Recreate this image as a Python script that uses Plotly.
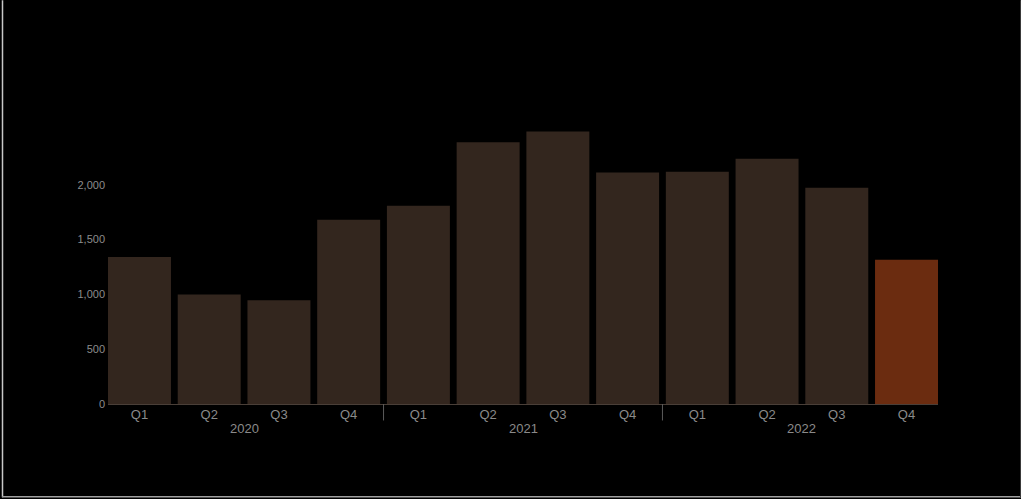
import plotly.graph_objects as go

# Quarterly totals, grouped by year
year_names = ["2020", "2021", "2022"]
quarter_names = ["Q1", "Q2", "Q3", "Q4"]
values = [1341, 998, 946, 1681, 1809, 2389, 2486, 2112, 2118, 2237, 1972, 1317]

categories = [f"{y} {q}" for y in year_names for q in quarter_names]
quarter_labels = [q for _ in year_names for q in quarter_names]

base_color = "#33261e"
highlight_color = "#6b2c10"
bar_colors = [base_color] * (len(values) - 1) + [highlight_color]

y_ticks = [0, 500, 1000, 1500, 2000]
y_tick_text = ["0", "500", "1,000", "1,500", "2,000"]

W, H = 1021, 499
ML, MR, MT, MB = 108, 83, 130, 94.5
GAP = 0.097

plot_w = W - ML - MR
plot_h = H - MT - MB


def px_x(p):
    return (p - ML) / plot_w


def px_y(p):
    return (H - MB - p) / plot_h


fig = go.Figure(
    go.Bar(
        x=categories,
        y=values,
        marker=dict(color=bar_colors, line=dict(width=0)),
    )
)

label_color = "#8a8a8a"
n_q = len(quarter_names)

# Year labels centred under each group of quarters
annotations = [
    dict(
        x=i * n_q + (n_q - 1) / 2,
        xref="x",
        y=px_y(429.5),
        yref="paper",
        text=y,
        showarrow=False,
        yanchor="middle",
        font=dict(size=13, color=label_color),
    )
    for i, y in enumerate(year_names)
]

# Divider ticks between year groups
shapes = [
    dict(type="line", xref="x", yref="paper",
         x0=i * n_q - 0.5, x1=i * n_q - 0.5, y0=0, y1=px_y(421),
         line=dict(color="#5a5a5a", width=1))
    for i in range(1, len(year_names))
]

frame_color = "#c8c8c8"
shapes += [
    dict(type="line", xref="paper", yref="paper",
         x0=px_x(2.5), x1=px_x(2.5), y0=px_y(0), y1=px_y(498),
         line=dict(color=frame_color, width=1.5)),
    dict(type="line", xref="paper", yref="paper",
         x0=px_x(2), x1=px_x(1021), y0=px_y(497.5), y1=px_y(497.5),
         line=dict(color="#a0a0a0", width=1.5)),
    dict(type="line", xref="paper", yref="paper",
         x0=px_x(1020.5), x1=px_x(1020.5), y0=px_y(0), y1=px_y(498),
         line=dict(color="#3a3a3a", width=1)),
]

fig.update_layout(
    template="none",
    width=W,
    height=H,
    margin=dict(l=ML, r=MR, t=MT, b=MB),
    paper_bgcolor="#000000",
    plot_bgcolor="#000000",
    bargap=GAP,
    showlegend=False,
    font=dict(family="Liberation Sans, Arial, sans-serif", color=label_color),
    xaxis=dict(
        type="category",
        range=[-0.5 + GAP / 2, len(values) - 0.5 - GAP / 2],
        tickvals=categories,
        ticktext=quarter_labels,
        showgrid=False,
        showline=True,
        linecolor="#4a3f38",
        linewidth=1,
        ticks="",
        ticklabelstandoff=-2,
        tickfont=dict(size=13, color=label_color),
        zeroline=False,
    ),
    yaxis=dict(
        range=[0, 2500],
        tickvals=y_ticks,
        ticktext=y_tick_text,
        showgrid=False,
        zeroline=False,
        showline=False,
        ticks="",
        ticklabelstandoff=2,
        tickfont=dict(size=11, color="#8c8c8c"),
    ),
    annotations=annotations,
    shapes=shapes,
)

fig.write_html("out.html")
